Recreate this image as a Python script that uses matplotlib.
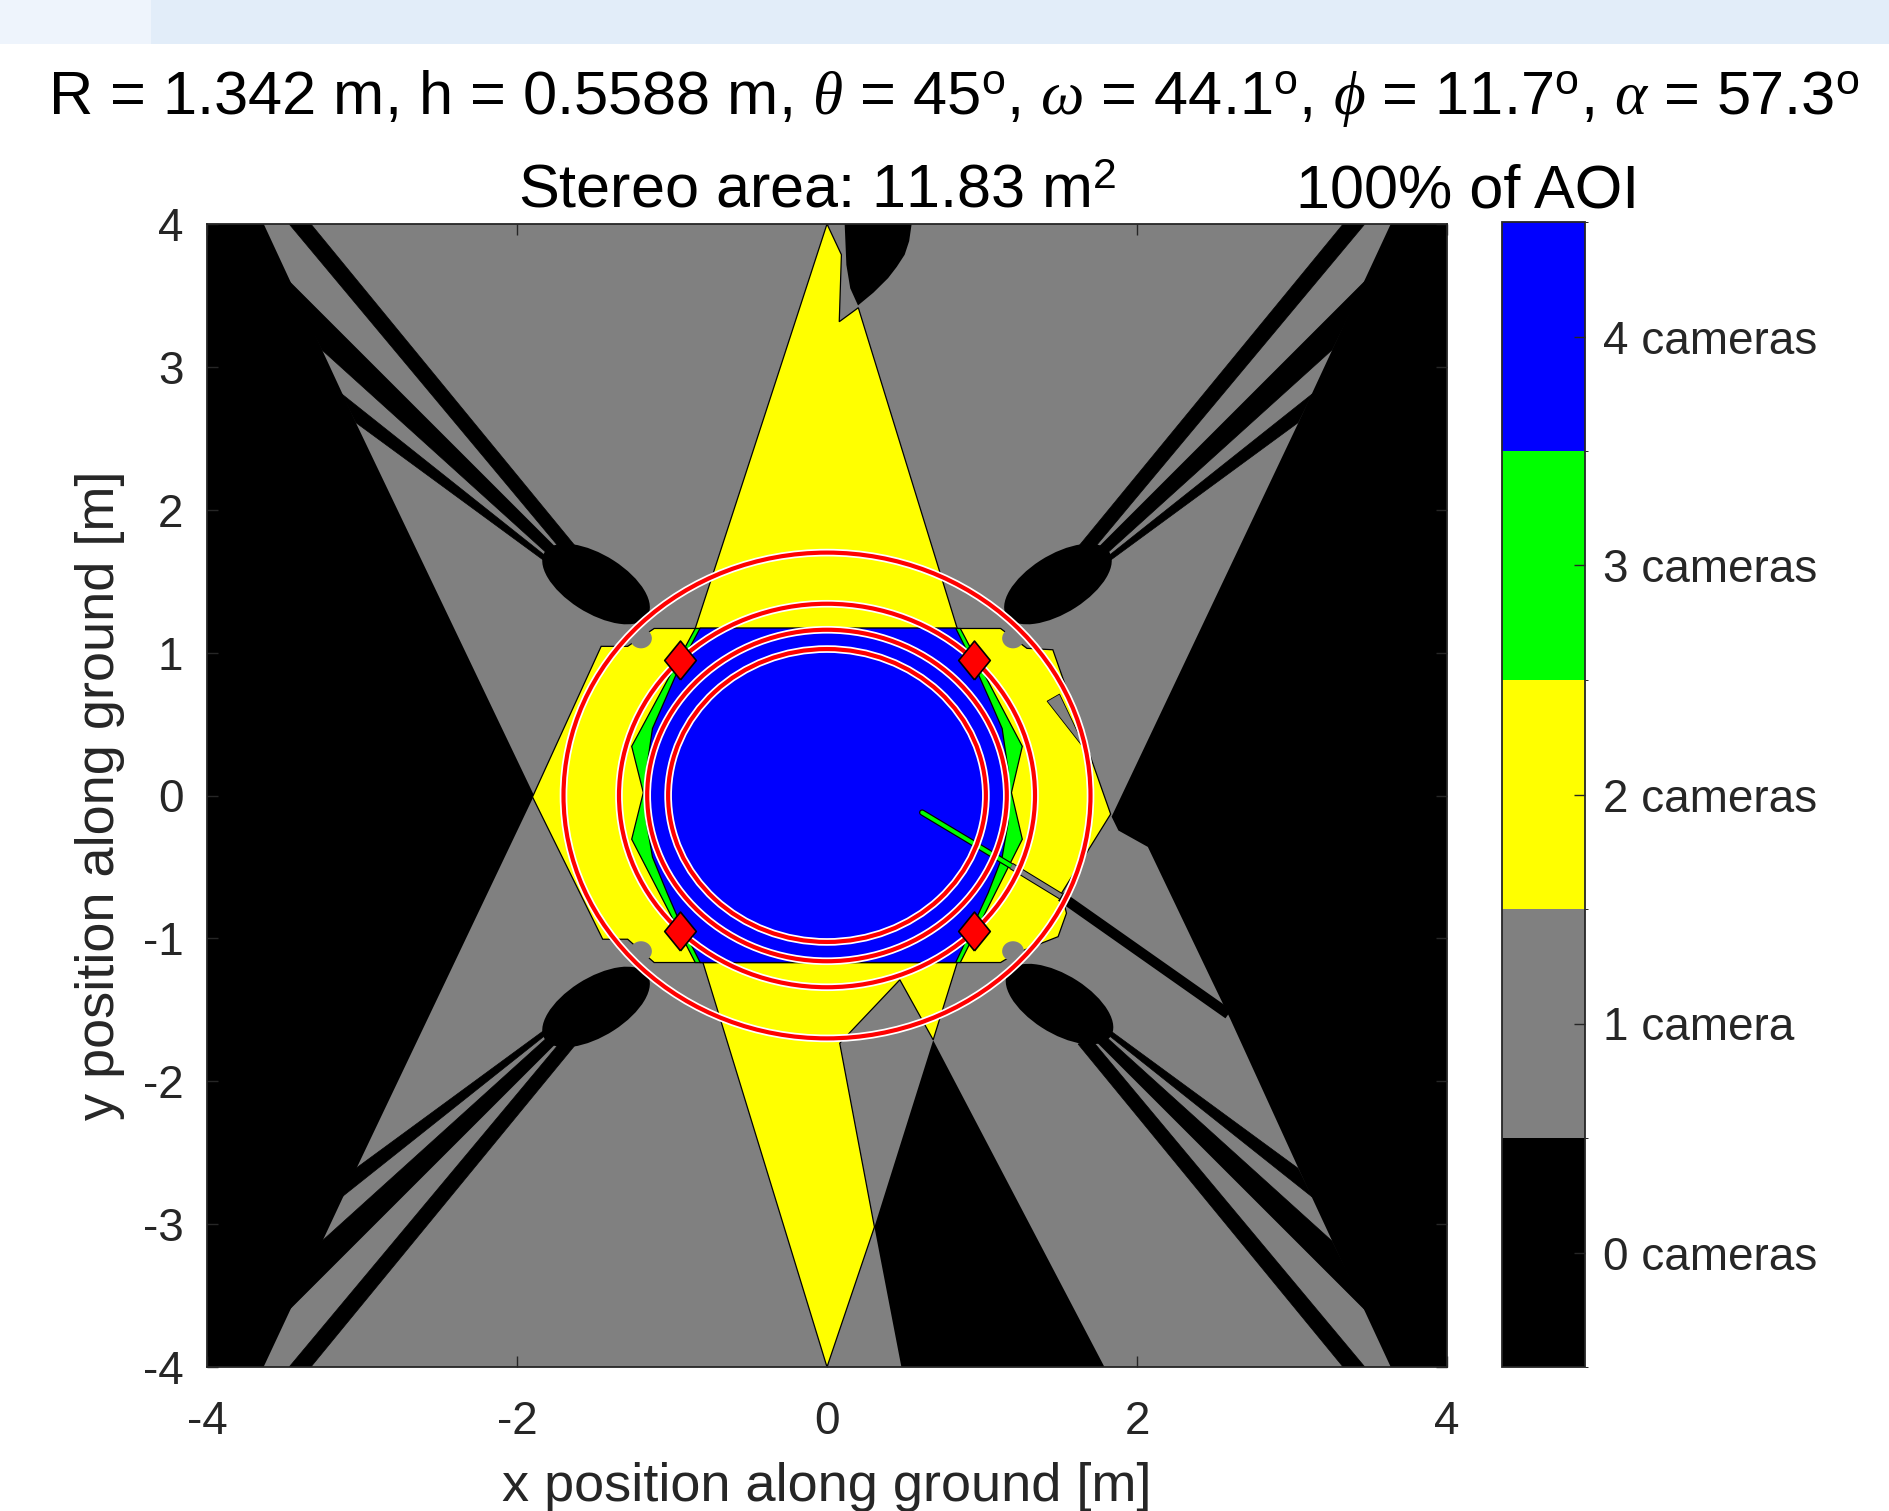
import matplotlib
matplotlib.use('Agg')
import matplotlib.pyplot as plt
import matplotlib.cm as cm
from matplotlib.patches import Polygon, Ellipse, Circle, Rectangle
from matplotlib.colors import ListedColormap, BoundaryNorm

plt.rcParams['font.family'] = ['Liberation Sans', 'DejaVu Sans']
plt.rcParams['mathtext.fontset'] = 'custom'
plt.rcParams['mathtext.rm'] = 'Liberation Sans'
plt.rcParams['mathtext.it'] = 'Liberation Serif:italic'
plt.rcParams['axes.unicode_minus'] = False

# camera count classes (colorbar)
count_levels = [0, 1, 2, 3, 4]
count_colors = ['#000000', '#808080', '#ffff00', '#00ff00', '#0000ff']
count_labels = ['0 cameras', '1 camera', '2 cameras', '3 cameras', '4 cameras']

# coverage regions, ground coordinates [m]
gray_area = [(-3.634, 4.0), (3.637, 4.0), (3.046, 2.62), (1.836, -0.148), (1.88, -0.245),
             (2.07, -0.36), (2.48, -1.29), (2.60, -1.56), (3.046, -2.62), (3.637, -4.0),
             (-3.635, -4.0), (-3.04, -2.62), (-1.89, 0.0), (-3.04, 2.61)]

# shadow stripes, one fan of three per corner
stripes_tl = [[(-3.47, 4.0), (-3.33, 4.0), (-1.62, 1.74), (-1.70, 1.70)],
              [(-3.48, 3.61), (-1.70, 1.68), (-1.74, 1.63), (-3.26, 3.12)],
              [(-3.13, 2.81), (-1.75, 1.62), (-1.72, 1.56), (-3.04, 2.61)]]
stripes_tr = [[(3.47, 4.0), (3.33, 4.0), (1.62, 1.74), (1.70, 1.70)],
              [(3.48, 3.61), (1.70, 1.68), (1.74, 1.63), (3.26, 3.12)],
              [(3.13, 2.81), (1.75, 1.62), (1.72, 1.56), (3.04, 2.61)]]
stripes_bl = [[(-3.47, -4.0), (-3.33, -4.0), (-1.62, -1.74), (-1.70, -1.70)],
              [(-3.48, -3.61), (-1.70, -1.68), (-1.74, -1.63), (-3.26, -3.12)],
              [(-3.13, -2.81), (-1.75, -1.62), (-1.72, -1.56), (-3.04, -2.61)]]
stripes_br = [[(3.47, -4.0), (3.33, -4.0), (1.62, -1.74), (1.70, -1.70)],
              [(3.48, -3.61), (1.70, -1.68), (1.74, -1.63), (3.26, -3.12)],
              [(3.13, -2.81), (1.75, -1.62), (1.72, -1.56), (3.04, -2.61)]]

paddle_x = [-1.49, 1.49, -1.49, 1.50]
paddle_y = [1.48, 1.48, -1.48, -1.46]
paddle_ang = [-35, 35, 35, -35]

bottom_black = [(0.685, -1.713), (0.306, -3.02), (0.48, -4.0), (1.79, -4.0)]
top_blob = [(0.114, 4.0), (0.546, 4.0), (0.53, 3.88), (0.501, 3.785), (0.45, 3.70),
            (0.394, 3.621), (0.30, 3.52), (0.20, 3.43), (0.15, 3.55), (0.125, 3.714)]

yellow_diamond = [(0.0, 4.0), (0.093, 3.785), (0.079, 3.316), (0.202, 3.414), (0.84, 1.17),
                  (0.84, -1.17), (0.685, -1.71), (0.47, -1.29), (0.082, -1.734), (0.306, -3.02),
                  (0.0, -4.0), (-0.80, -1.17), (-0.85, 1.17)]
yellow_hex = [(-1.115, 1.169), (1.12, 1.169), (1.29, 1.03), (1.457, 1.02), (1.83, -0.13),
              (1.513, -0.684), (1.545, -0.824), (1.491, -0.988), (1.276, -1.08), (1.147, -1.151),
              (1.12, -1.169), (-1.115, -1.169), (-1.286, -1.006), (-1.447, -1.006), (-1.90, -0.01),
              (-1.457, 1.044), (-1.286, 1.044)]
gray_notch = [(1.42, 0.66), (1.50, 0.71), (1.68, 0.30)]
bite_x = [-1.20, 1.20, -1.20, 1.20]
bite_y = [1.10, 1.10, -1.09, -1.09]

green_area = [(-0.85, 1.169), (0.86, 1.169), (1.26, 0.344), (1.19, 0.02), (1.26, -0.306),
              (0.86, -1.169), (-0.85, -1.169), (-1.26, -0.306), (-1.185, 0.02), (-1.26, 0.344)]
blue_area = [(-0.818, 1.172), (0.83, 1.172), (0.955, 0.90), (1.05, 0.669), (1.13, 0.469),
             (1.17, 0.169), (1.17, -0.181), (1.13, -0.431), (1.04, -0.681), (0.955, -0.881),
             (0.83, -1.169), (-0.818, -1.169), (-0.952, -0.881), (-1.032, -0.681), (-1.126, -0.431),
             (-1.166, -0.181), (-1.166, 0.169), (-1.126, 0.469), (-1.045, 0.669), (-0.952, 0.90)]

# pole crossing the area
rod_green_x, rod_green_y = [0.614, 1.19], [-0.119, -0.494]
rod_gray_x, rod_gray_y = [1.19, 1.51], [-0.494, -0.706]
rod_black_x, rod_black_y = [1.51, 2.59], [-0.706, -1.53]

ring_radii = [1.70, 1.342, 1.16, 1.025]
cam_x = [-0.949, 0.949, -0.949, 0.949]
cam_y = [0.949, 0.949, -0.949, -0.949]

title1 = ('R = 1.342 m, h = 0.5588 m, $\\theta$ = 45$^{\\mathrm{o}}$, $\\omega$ = 44.1$^{\\mathrm{o}}$, '
          '$\\phi$ = 11.7$^{\\mathrm{o}}$, $\\alpha$ = 57.3$^{\\mathrm{o}}$')

W, H = 1890, 1511
fig = plt.figure(figsize=(W / 100, H / 100), dpi=100)
fig.patches.append(Rectangle((0, 1 - 44 / H), 1, 44 / H, transform=fig.transFigure,
                             facecolor='#e2edf9', edgecolor='none', zorder=0))
fig.patches.append(Rectangle((0, 1 - 44 / H), 0.08, 44 / H, transform=fig.transFigure,
                             facecolor='#eef4fc', edgecolor='none', zorder=0))

ax = fig.add_axes([207 / W, (H - 1367) / H, 1240 / W, 1143 / H])
ax.set_facecolor('black')
ax.set_xlim(-4, 4)
ax.set_ylim(-4, 4)

ax.add_patch(Polygon(gray_area, closed=True, facecolor=count_colors[1], edgecolor='none', zorder=1))
for poly in stripes_tl + stripes_tr + stripes_bl + stripes_br:
    ax.add_patch(Polygon(poly, closed=True, facecolor='black', edgecolor='black', lw=0.5, zorder=2))
for px, py, pa in zip(paddle_x, paddle_y, paddle_ang):
    ax.add_patch(Ellipse((px, py), 0.80, 0.40, angle=pa, facecolor='black', edgecolor='none', zorder=2))
ax.add_patch(Polygon(bottom_black, closed=True, facecolor='black', edgecolor='none', zorder=2))
ax.add_patch(Polygon(top_blob, closed=True, facecolor='black', edgecolor='none', zorder=2))

ax.add_patch(Polygon(yellow_diamond, closed=True, facecolor=count_colors[2], edgecolor='black', lw=0.9, zorder=3))
ax.add_patch(Polygon(yellow_hex, closed=True, facecolor=count_colors[2], edgecolor='black', lw=0.9, zorder=3))
ax.add_patch(Polygon(gray_notch, closed=True, facecolor=count_colors[1], edgecolor='black', lw=0.6, zorder=3))
for bx, by in zip(bite_x, bite_y):
    ax.add_patch(Circle((bx, by), 0.07, facecolor=count_colors[1], edgecolor='none', zorder=3))
ax.add_patch(Polygon(green_area, closed=True, facecolor=count_colors[3], edgecolor='black', lw=0.9, zorder=4))
ax.add_patch(Polygon(blue_area, closed=True, facecolor=count_colors[4], edgecolor='black', lw=0.9, zorder=4))

ax.plot(rod_green_x, rod_green_y, color='black', lw=4.5, solid_capstyle='round', zorder=5)
ax.plot(rod_green_x, rod_green_y, color='#00ff00', lw=2.8, solid_capstyle='round', zorder=5)
ax.plot(rod_gray_x, rod_gray_y, color='black', lw=5.0, solid_capstyle='butt', zorder=5)
ax.plot(rod_gray_x, rod_gray_y, color=count_colors[1], lw=3.5, solid_capstyle='butt', zorder=5)
ax.plot(rod_black_x, rod_black_y, color='black', lw=7.5, solid_capstyle='butt', zorder=5)

for r in ring_radii:
    ax.add_patch(Circle((0, 0), r, fill=False, edgecolor='white', lw=5.5, zorder=6))
    ax.add_patch(Circle((0, 0), r, fill=False, edgecolor='red', lw=3.0, zorder=7))

diamond_marker = [(0, -1.23), (1, 0), (0, 1.23), (-1, 0), (0, -1.23)]
ax.plot(cam_x, cam_y, linestyle='none', marker=diamond_marker, ms=28, mfc='red', mec='black', mew=1.2, zorder=8)

ax.set_xticks([-4, -2, 0, 2, 4])
ax.set_yticks([-4, -3, -2, -1, 0, 1, 2, 3, 4])
ax.tick_params(direction='in', length=8, width=1, top=True, right=True, colors='#262626', labelsize=33)
ax.tick_params(axis='x', pad=24)
ax.tick_params(axis='y', pad=17)
for s in ax.spines.values():
    s.set_color('#262626')
    s.set_linewidth(1.3)
    s.set_zorder(10)

ax.set_xlabel('x position along ground [m]', fontsize=39, color='#262626')
ax.set_ylabel('y position along ground [m]', fontsize=39, color='#262626')
ax.xaxis.set_label_coords(0.5, -0.083)
ax.yaxis.set_label_coords(-0.066, 0.5)

fig.text(48 / W, 1 - 114 / H, title1, fontsize=44.2, ha='left', va='baseline')
fig.text(518 / W, 1 - 207 / H, 'Stereo area: 11.83 m$^{2}$', fontsize=44, ha='left', va='baseline')
fig.text(1296 / W, 1 - 207 / H, '100% of AOI', fontsize=44, ha='left', va='baseline')

cax = fig.add_axes([1502 / W, (H - 1367) / H, 83 / W, 1145 / H])
norm = BoundaryNorm([-0.5, 0.5, 1.5, 2.5, 3.5, 4.5], 5)
cb = fig.colorbar(cm.ScalarMappable(norm=norm, cmap=ListedColormap(count_colors)), cax=cax, ticks=count_levels)
cb.ax.set_yticklabels(count_labels)
cb.ax.tick_params(direction='in', length=8, width=1, labelsize=33, pad=13, colors='#262626')
cb.outline.set_edgecolor('#262626')
cb.outline.set_linewidth(1.3)

fig.savefig('out.png', dpi=100)
